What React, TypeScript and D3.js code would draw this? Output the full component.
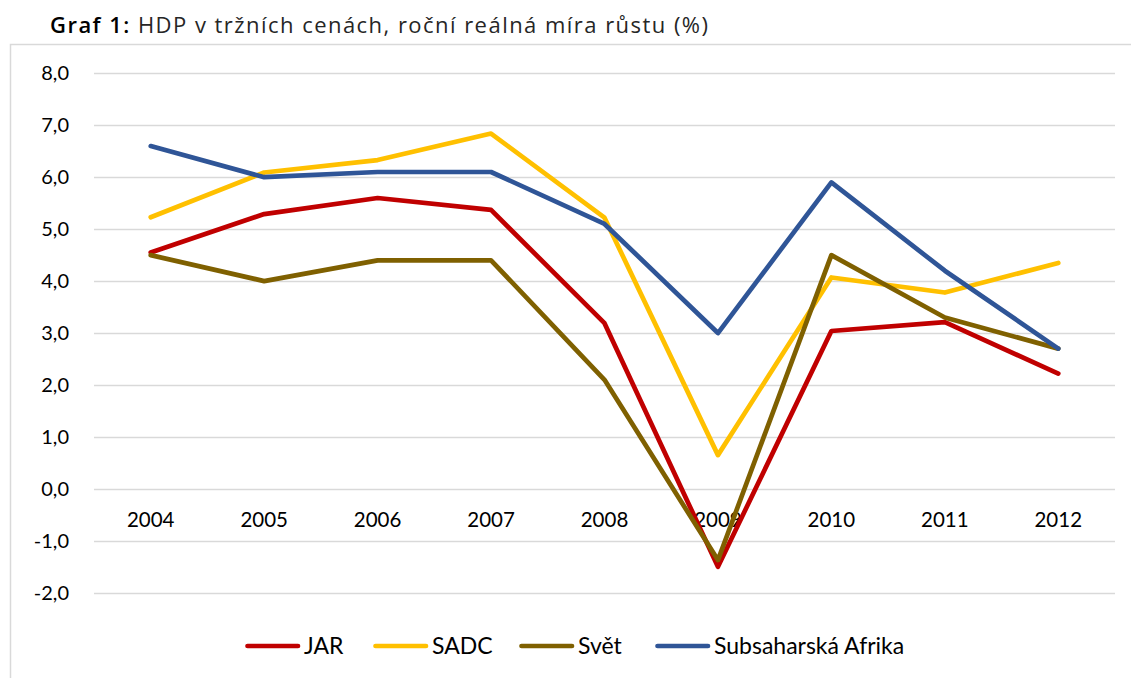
import React, { useEffect, useRef } from "react";
import * as d3 from "d3";

const years = ["2004", "2005", "2006", "2007", "2008", "2009", "2010", "2011", "2012"];
const jar = [4.55, 5.29, 5.6, 5.37, 3.19, -1.5, 3.04, 3.21, 2.22];
const sadc = [5.23, 6.09, 6.33, 6.84, 5.22, 0.65, 4.07, 3.78, 4.35];
const svet = [4.5, 4.0, 4.4, 4.4, 2.1, -1.37, 4.5, 3.3, 2.7];
const ssa = [6.6, 6.0, 6.1, 6.1, 5.1, 3.0, 5.9, 4.2, 2.7];
const yTicks = [-2, -1, 0, 1, 2, 3, 4, 5, 6, 7, 8];

const seriesNames = ["JAR", "SADC", "Svět", "Subsaharská Afrika"];
const seriesColors = ["#C00000", "#FFC000", "#7F6000", "#2F5597"];
const legendX = [245, 373, 519, 655];

export default function App() {
  const ref = useRef<SVGSVGElement>(null);

  useEffect(() => {
    const svg = d3.select(ref.current);
    svg.selectAll("*").remove();
    const font = "Lato, 'Open Sans', sans-serif";

    const x = d3.scaleBand().domain(years).range([94, 1115]).padding(0);
    const y = d3.scaleLinear().domain([-2, 8]).range([592.8, 73.3]);

    // frame (left and top border of the chart area)
    svg.append("path")
      .attr("d", "M10.5,678 L10.5,44.5 L1131,44.5")
      .attr("fill", "none")
      .attr("stroke", "#D9D9D9")
      .attr("stroke-width", 1.5);

    // title
    const title = svg.append("text")
      .attr("x", 50).attr("y", 33)
      .attr("textLength", 658).attr("lengthAdjust", "spacing")
      .style("font-family", "'Open Sans', sans-serif").style("font-size", "22px").attr("fill", "#000");
    title.append("tspan").attr("font-weight", 600).text("Graf 1:");
    title.append("tspan").attr("fill", "#262626").text(" HDP v tržních cenách, roční reálná míra růstu (%)");

    // gridlines
    svg.selectAll(".grid").data(yTicks).join("line")
      .attr("class", "grid")
      .attr("x1", 94).attr("x2", 1115)
      .attr("y1", d => Math.round(y(d)) + 0.5).attr("y2", d => Math.round(y(d)) + 0.5)
      .attr("stroke", "#D9D9D9").attr("stroke-width", 1.5);

    // y labels
    const fmt = (d: number) => d3.format(".1f")(d).replace(".", ",").replace("−", "-");
    svg.selectAll(".ylab").data(yTicks).join("text")
      .attr("class", "ylab")
      .attr("x", 69).attr("y", d => y(d))
      .attr("dy", "0.35em")
      .attr("text-anchor", "end")
      .style("font-family", font).style("font-size", "20px")
      .attr("fill", "#000")
      .text(fmt);

    // x labels below zero line
    svg.selectAll(".xlab").data(years).join("text")
      .attr("class", "xlab")
      .attr("x", d => (x(d) as number) + x.bandwidth() / 2)
      .attr("y", y(0) + 31)
      .attr("dy", "0.35em")
      .attr("text-anchor", "middle")
      .style("font-family", font).style("font-size", "20.5px")
      .attr("fill", "#000")
      .text(d => d);

    const line = d3.line<number>()
      .x((_, i) => (x(years[i]) as number) + x.bandwidth() / 2)
      .y(d => y(d));

    const allSeries = [jar, sadc, svet, ssa];
    svg.selectAll(".series").data(allSeries).join("path")
      .attr("class", "series")
      .attr("d", d => line(d))
      .attr("fill", "none")
      .attr("stroke", (_, i) => seriesColors[i])
      .attr("stroke-width", 4.7)
      .attr("stroke-linecap", "round")
      .attr("stroke-linejoin", "round");

    // legend
    const lg = svg.selectAll(".leg").data(seriesNames).join("g")
      .attr("class", "leg")
      .attr("transform", (_, i) => `translate(${legendX[i]}, 646)`);
    lg.append("line")
      .attr("x1", 2.5).attr("x2", 53).attr("y1", 0).attr("y2", 0)
      .attr("stroke", (_, i) => seriesColors[i])
      .attr("stroke-width", 4.7)
      .attr("stroke-linecap", "round");
    lg.append("text")
      .attr("x", 59).attr("y", 0).attr("dy", "0.35em")
      .style("font-family", font).style("font-size", "23px")
      .attr("fill", "#000")
      .text(d => d);
  }, []);

  return (
    <svg ref={ref} width={1131} height={678}
      style={{ position: "absolute", left: 0, top: 0, background: "#fff" }} />
  );
}
